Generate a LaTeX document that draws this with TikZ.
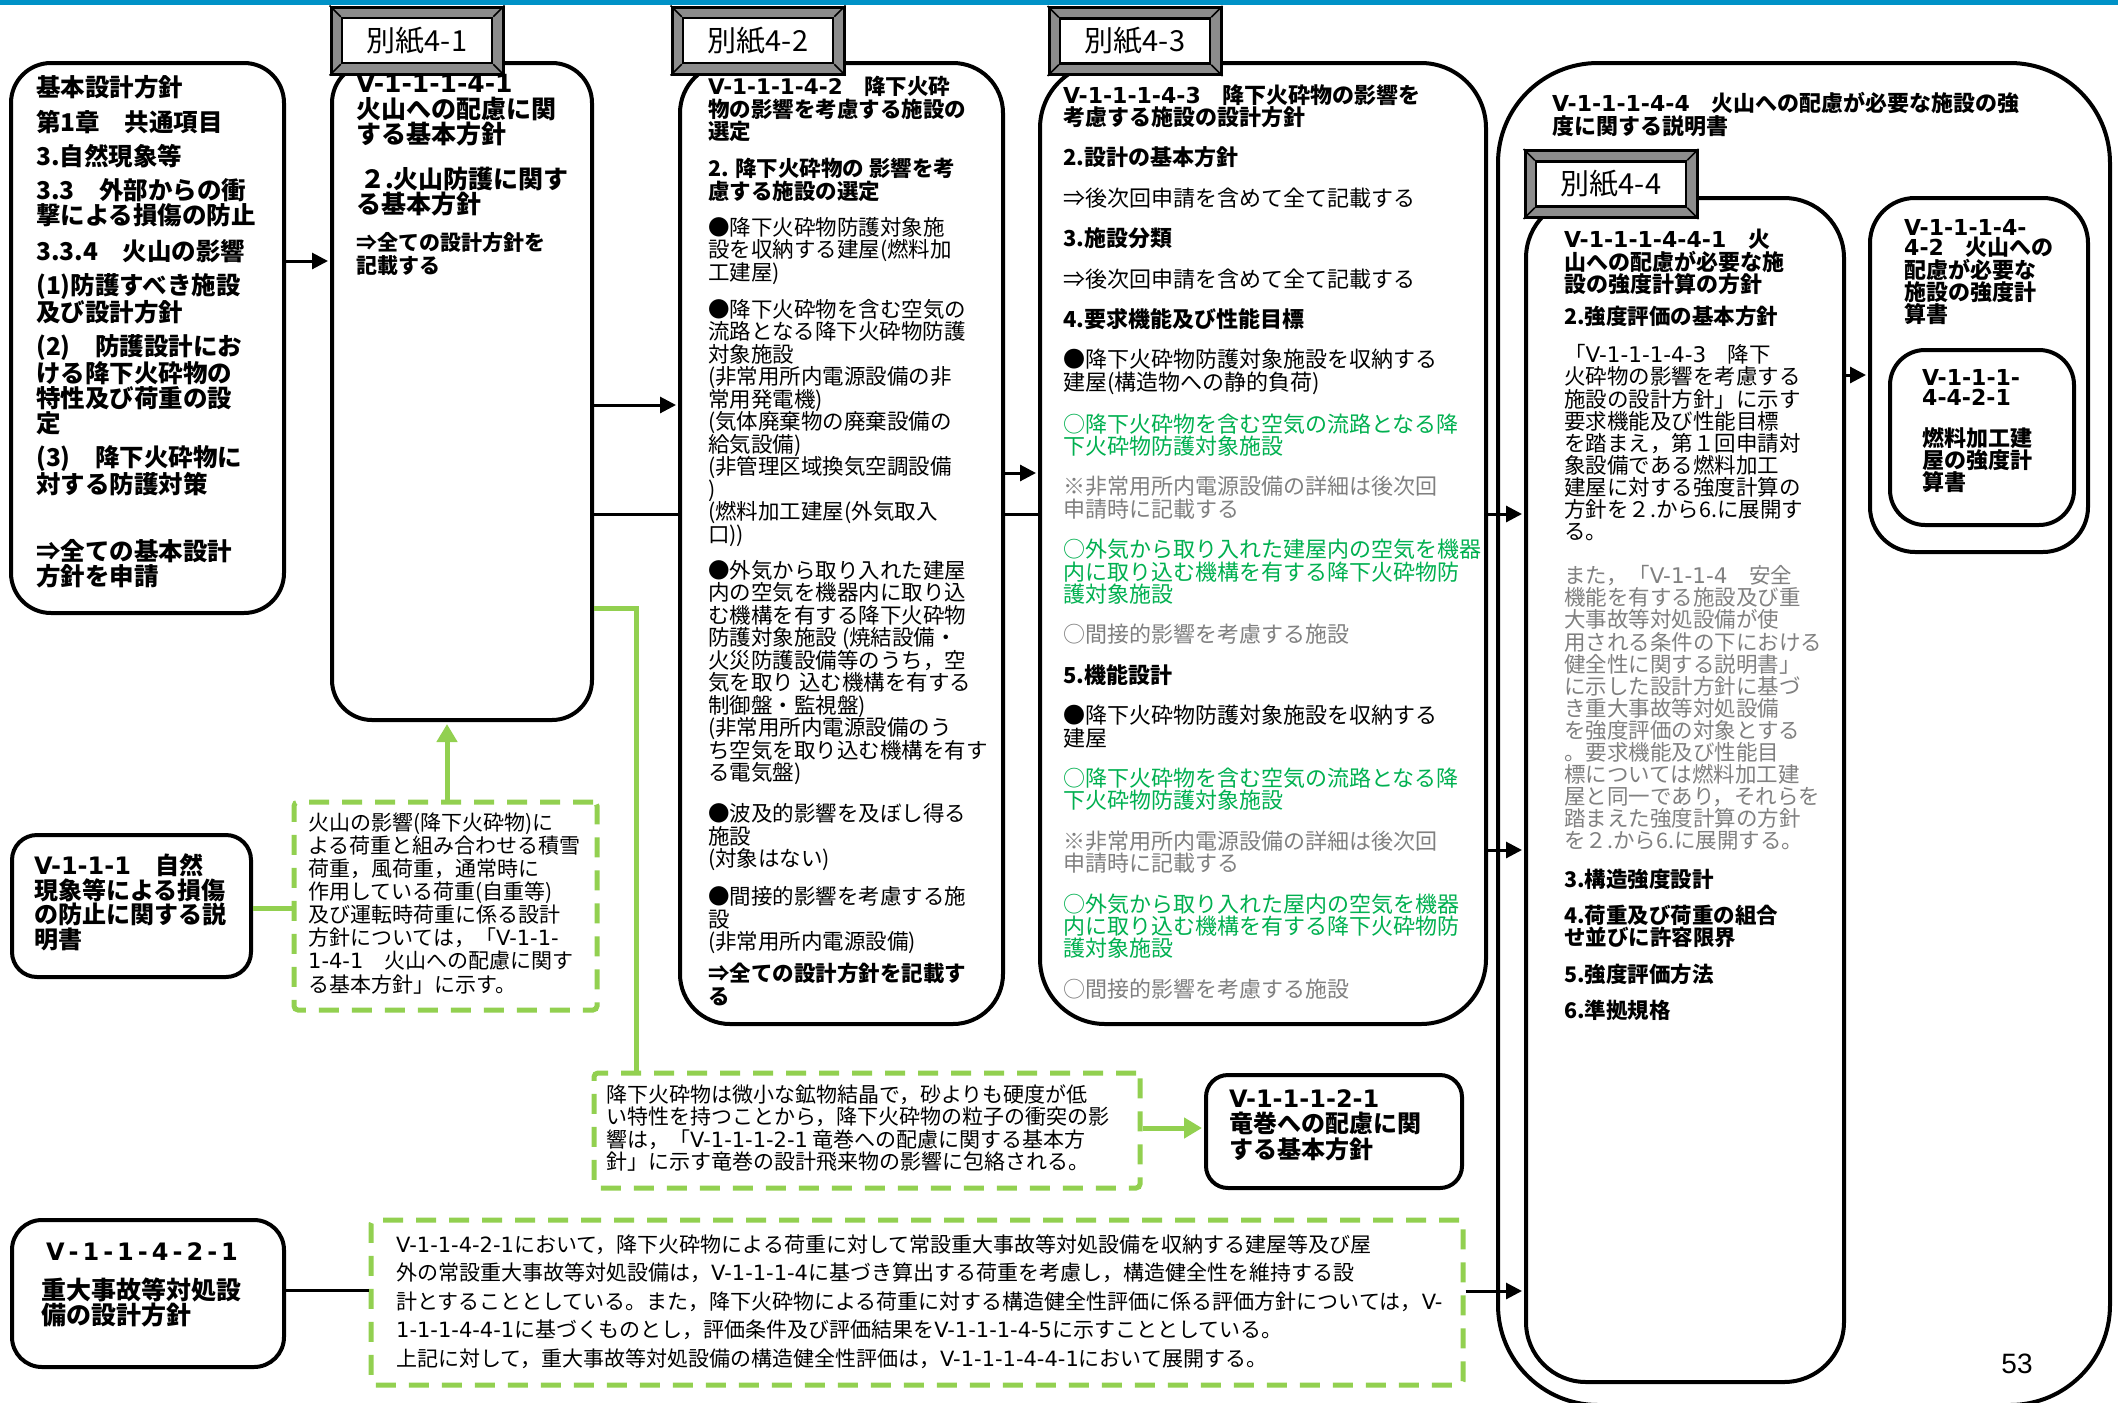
\documentclass[tikz,border=0pt]{standalone}
\usepackage{fontspec}
\setmainfont{Noto Sans CJK JP}
\newfontfamily\pagenumfont{Liberation Sans}
\newfontfamily\dv{DejaVu Sans}
\usetikzlibrary{arrows.meta}
\pgfdeclarelayer{back}
\pgfdeclarelayer{bg}
\pgfsetlayers{back,bg,main}
\definecolor{jgreen}{RGB}{0,176,80}
\definecolor{jgray}{RGB}{128,128,128}
\definecolor{lgreen}{RGB}{146,208,80}
\definecolor{topblue}{RGB}{0,146,199}
\newcommand{\grn}[1]{\textcolor{jgreen}{#1}}
\newcommand{\gry}[1]{\textcolor{jgray}{#1}}
\newcommand{\fs}[2]{\fontsize{#1}{#2}\selectfont}
\newcommand{\hs}{\hspace{4pt}}
\newcommand{\vn}[1]{{\dv #1}}
\newcommand{\bekkai}[4]{%
  \node[draw=black, line width=3pt, fill=black!45, minimum width=172pt, minimum height=67pt, inner sep=0pt] (#1) at (#2,#3) {};
  \node[draw=black, line width=2.5pt, fill=white, minimum width=150pt, minimum height=45pt, inner sep=0pt, font=\fs{29}{29}] (#1i) at (#1.center) {#4};
  \foreach \c in {north west, north east, south west, south east} \draw[line width=1.5pt] (#1.\c) -- (#1i.\c);
}
\begin{document}
\begin{tikzpicture}[x=1pt,y=-1pt,
  box/.style={draw=black, line width=4pt, fill=white, inner sep=0pt},
  dbox/.style={draw=lgreen, line width=5pt, dash pattern=on 20pt off 13pt, fill=white, inner sep=0pt, rounded corners=4pt},
  txt/.style={anchor=north west, inner sep=0pt, align=left},
  arr/.style={line width=3pt, shorten >=2pt, -{Triangle[length=16pt,width=16pt]}},
  garr/.style={draw=lgreen, line width=5pt, shorten >=2pt, -{Triangle[length=18pt,width=20pt]}},
  gline/.style={draw=lgreen, line width=5pt}
]
\useasboundingbox (0,0) rectangle (2118,1403);
\begin{pgfonlayer}{back}
\fill[white] (0,0) rectangle (2118,1403);
\end{pgfonlayer}
\fill[topblue] (0,0) rectangle (2118,5);

% main boxes
\node[box, rounded corners=40pt, minimum width=273pt, minimum height=550pt] (A) at (147.5,338) {};
\node[box, rounded corners=40pt, minimum width=260pt, minimum height=657pt] (B41) at (462,391.5) {};
\node[box, rounded corners=50pt, minimum width=323pt, minimum height=961pt] (B42) at (841.5,543.5) {};
\node[box, rounded corners=65pt, minimum width=446pt, minimum height=961pt] (B43) at (1263,543.5) {};
\node[box, rounded corners=100pt, minimum width=612pt, minimum height=1342pt] (B44) at (1804,734) {};
\node[box, rounded corners=60pt, minimum width=318pt, minimum height=1184pt] (B441) at (1685,790) {};
\node[box, rounded corners=45pt, minimum width=218pt, minimum height=354pt] (B442) at (1979,375) {};
\node[box, rounded corners=35pt, minimum width=184pt, minimum height=175pt] (B4421) at (1982,437.5) {};
\node[box, rounded corners=25pt, minimum width=239pt, minimum height=142pt] (BX) at (131.5,906) {};
\node[dbox, minimum width=303pt, minimum height=208pt] (C) at (445.5,906) {};
\node[dbox, minimum width=546pt, minimum height=115pt] (D) at (867,1130.5) {};
\node[box, rounded corners=22pt, minimum width=256pt, minimum height=113pt] (E) at (1334,1131.5) {};
\node[box, rounded corners=30pt, minimum width=272pt, minimum height=147pt] (F) at (148,1293.5) {};
\node[dbox, minimum width=1092pt, minimum height=165pt] (G) at (917,1302.5) {};

% labels
\bekkai{L41}{417}{40.5}{別紙4-1}
\bekkai{L42}{758}{40.5}{別紙4-2}
\bekkai{L43}{1135}{41}{別紙4-3}
\bekkai{L44}{1611}{184}{別紙4-4}

% line behind boxes 4-2 and 4-3
\begin{pgfonlayer}{bg}
\draw[line width=3pt] (B41.east |- 0,514) -- (B43.east |- 0,514);
\end{pgfonlayer}

% connectors
\draw[arr] (B43.east |- 0,514) -- (B441.west |- 0,514);
\draw[arr] (A.east |- 0,261) -- (B41.west |- 0,261);
\draw[arr] (B41.east |- 0,405) -- (B42.west |- 0,405);
\draw[arr] (B42.east |- 0,473) -- (B43.west |- 0,473);
\draw[arr] (B43.east |- 0,850) -- (B441.west |- 0,850);
\draw[arr] (B441.east |- 0,375) -- (B442.west |- 0,375);
\draw[arr] (G.east |- 0,1291) -- (B441.west |- 0,1291);
\draw[line width=3pt] (F.east |- 0,1290) -- (G.west |- 0,1290);
\draw[gline] (BX.east |- 0,908) -- (C.west |- 0,908);
\draw[garr] (C.north -| 447,0) -- (B41.south -| 447,0);
\draw[gline] (B41.east |- 0,608) -- (636,608) -- (D.north -| 636,0);
\draw[garr] (D.east |- 0,1128) -- (E.west |- 0,1128);

% texts
\node[txt, font=\fs{24.5}{25}\bfseries] (tA) at (36,75) {基本設計方針\\[10pt]
第1章　共通項目\\[9pt]
3.自然現象等\\[9pt]
3.3　外部からの衝\\撃による損傷の防止\\[11pt]
3.3.4　火山の影響\\[9pt]
(1)防護すべき施設\\及び設計方針\\[9pt]
(2)　防護設計にお\\ける降下火砕物の\\特性及び荷重の設\\定\\[9pt]
(3)　降下火砕物に\\対する防護対策\\[42pt]
⇒全ての基本設計\\方針を申請};

\node[txt, font=\fs{25}{25.5}\bfseries] (t41a) at (356,74.5) {\vn{V-1-1-1-4-1}\\火山への配慮に関\\する基本方針};
\node[txt, font=\fs{25}{25}\bfseries] (t41b) at (356,166.5) {\hspace{4pt}２.火山防護に関す\\る基本方針};
\node[txt, font=\fs{21}{23}\bfseries] (t41c) at (356,232.5) {⇒全ての設計方針を\\記載する};

\node[txt, font=\fs{21.5}{22.5}] (t42) at (708,76) {\textbf{\vn{V-1-1-1-4-2}　降下火砕}\\\textbf{物の影響を考慮する施設の}\\\textbf{選定}\\[14.5pt]
\textbf{2. 降下火砕物の 影響を考}\\\textbf{慮する施設の選定}\\[13.5pt]
●降下火砕物防護対象施\\設を収納する建屋(燃料加\\工建屋)\\[14.5pt]
●降下火砕物を含む空気の\\流路となる降下火砕物防護\\対象施設\\(非常用所内電源設備の非\\常用発電機)\\(気体廃棄物の廃棄設備の\\給気設備)\\(非管理区域換気空調設備\\)\\(燃料加工建屋(外気取入\\口))\\[13.5pt]
●外気から取り入れた建屋\\内の空気を機器内に取り込\\む機構を有する降下火砕物\\防護対象施設 (焼結設備・\\火災防護設備等のうち，空\\気を取り 込む機構を有する\\制御盤・監視盤)\\(非常用所内電源設備のう\\ち空気を取り込む機構を有す\\る電気盤)\\[18.5pt]
●波及的影響を及ぼし得る\\施設\\(対象はない)\\[15.5pt]
●間接的影響を考慮する施\\設\\(非常用所内電源設備)\\[8.5pt]
\textbf{⇒全ての設計方針を記載す}\\\textbf{る}};

\node[txt, font=\fs{22}{22.4}] (t43) at (1063,84) {\textbf{\vn{V-1-1-1-4-3}　降下火砕物の影響を}\\\textbf{考慮する施設の設計方針}\\[18pt]
\textbf{2.設計の基本方針}\\[18pt]
⇒後次回申請を含めて全て記載する\\[18pt]
\textbf{3.施設分類}\\[18pt]
⇒後次回申請を含めて全て記載する\\[18pt]
\textbf{4.要求機能及び性能目標}\\[18pt]
●降下火砕物防護対象施設を収納する\\建屋(構造物への静的負荷)\\[18pt]
\grn{○降下火砕物を含む空気の流路となる降}\\\grn{下火砕物防護対象施設}\\[18pt]
\gry{※非常用所内電源設備の詳細は後次回}\\\gry{申請時に記載する}\\[18pt]
\grn{○外気から取り入れた建屋内の空気を機器}\\\grn{内に取り込む機構を有する降下火砕物防}\\\grn{護対象施設}\\[18pt]
\gry{○間接的影響を考慮する施設}\\[18pt]
\textbf{5.機能設計}\\[18pt]
●降下火砕物防護対象施設を収納する\\建屋\\[18pt]
\grn{○降下火砕物を含む空気の流路となる降}\\\grn{下火砕物防護対象施設}\\[18pt]
\gry{※非常用所内電源設備の詳細は後次回}\\\gry{申請時に記載する}\\[18pt]
\grn{○外気から取り入れた屋内の空気を機器}\\\grn{内に取り込む機構を有する降下火砕物防}\\\grn{護対象施設}\\[18pt]
\gry{○間接的影響を考慮する施設}};

\node[txt, font=\fs{22}{23.5}\bfseries] (t44) at (1552,92) {\vn{V-1-1-1-4-4}　火山への配慮が必要な施設の強\\度に関する説明書};

\node[txt, font=\fs{22}{20}\bfseries] (t441a) at (1564,229) {\vn{V-1-1-1-4-4-1}　火\\山への配慮が必要な施\\設の強度計算の方針};
\node[txt, font=\fs{21.5}{22.1}] (t441b) at (1564,306) {\textbf{2.強度評価の基本方針}\\[16pt]
「\vn{V-1-1-1-4-3}　降下\\火砕物の影響を考慮する\\施設の設計方針」に示す\\要求機能及び性能目標\\を踏まえ，第１回申請対\\象設備である燃料加工\\建屋に対する強度計算の\\方針を２.から6.に展開す\\る。\\[22pt]
\gry{また，「\vn{V-1-1-4}　安全}\\\gry{機能を有する施設及び重}\\\gry{大事故等対処設備が使}\\\gry{用される条件の下における}\\\gry{健全性に関する説明書」}\\\gry{に示した設計方針に基づ}\\\gry{き重大事故等対処設備}\\\gry{を強度評価の対象とする}\\\gry{。要求機能及び性能目}\\\gry{標については燃料加工建}\\\gry{屋と同一であり，それらを}\\\gry{踏まえた強度計算の方針}\\\gry{を２.から6.に展開する。}\\[16pt]
\textbf{3.構造強度設計}\\[14pt]
\textbf{4.荷重及び荷重の組合}\\\textbf{せ並びに許容限界}\\[15pt]
\textbf{5.強度評価方法}\\[14pt]
\textbf{6.準拠規格}};

\node[txt, font=\fs{22}{20.7}\bfseries] (t442) at (1904,219) {\vn{V-1-1-1-4-}\\\vn{4-2}　火山への\\配慮が必要な\\施設の強度計\\算書};
\node[txt, font=\fs{22}{20}\bfseries] (t4421a) at (1922,369) {\vn{V-1-1-1-}\\\vn{4-4-2-1}};
\node[txt, font=\fs{22}{20.7}\bfseries] (t4421b) at (1922,427) {燃料加工建\\屋の強度計\\算書};

\node[txt, font=\fs{24}{24.5}\bfseries] (tBX) at (34,854) {\vn{V-1-1-1}　自然\\現象等による損傷\\の防止に関する説\\明書};

\node[txt, font=\fs{21}{23.1}] (tC) at (308,812.5) {火山の影響(降下火砕物)に\\よる荷重と組み合わせる積雪\\荷重，風荷重，通常時に\\作用している荷重(自重等)\\及び運転時荷重に係る設計\\方針については，「\vn{V-1-1-}\\\vn{1-4-1}　火山への配慮に関す\\る基本方針」に示す。};

\node[txt, font=\fs{21}{22.5}] (tD) at (606,1084.5) {降下火砕物は微小な鉱物結晶で，砂よりも硬度が低\\い特性を持つことから，降下火砕物の粒子の衝突の影\\響は，「\vn{V-1-1-1-2-1} 竜巻への配慮に関する基本方\\針」に示す竜巻の設計飛来物の影響に包絡される。};

\node[txt, font=\fs{24}{25.5}\bfseries] (tE) at (1229,1089) {\vn{V-1-1-1-2-1}\\竜巻への配慮に関\\する基本方針};

\node[inner sep=0pt, font=\fs{24}{24}\bfseries] (tF1) at (142,1252) {\vn{V\hs-\hs1\hs-\hs1\hs-\hs4\hs-\hs2\hs-\hs1}};
\node[txt, font=\fs{25}{23}\bfseries] (tF2) at (41,1277.5) {重大事故等対処設\\備の設計方針};

\node[txt, font=\fs{21}{28.5}] (tG) at (396,1234.5) {\vn{V-1-1-4-2-1}において，降下火砕物による荷重に対して常設重大事故等対処設備を収納する建屋等及び屋\\外の常設重大事故等対処設備は，\vn{V-1-1-1-4}に基づき算出する荷重を考慮し，構造健全性を維持する設\\計とすることとしている。また，降下火砕物による荷重に対する構造健全性評価に係る評価方針については，\vn{V-}\\\vn{1-1-1-4-4-1}に基づくものとし，評価条件及び評価結果を\vn{V-1-1-1-4-5}に示すこととしている。\\上記に対して，重大事故等対処設備の構造健全性評価は，\vn{V-1-1-1-4-4-1}において展開する。};

\node[inner sep=0pt, font=\pagenumfont\fs{28}{28}] (pnum) at (2017,1364) {53};
\end{tikzpicture}
\end{document}
